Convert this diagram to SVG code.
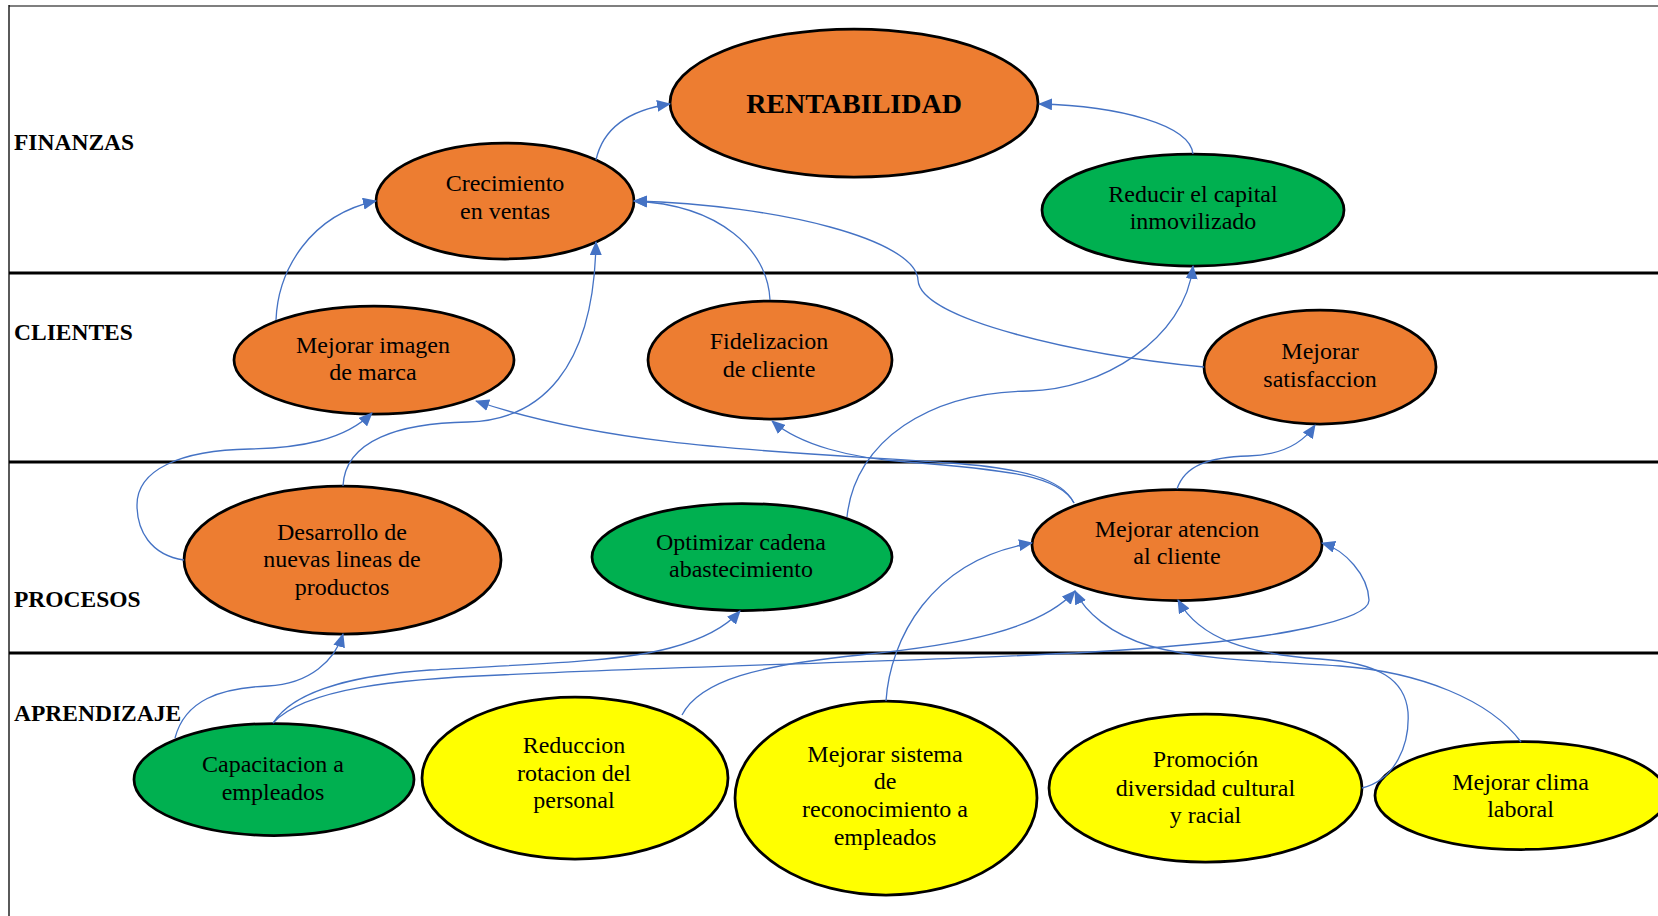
<svg xmlns="http://www.w3.org/2000/svg" width="1658" height="916" viewBox="0 0 1658 916">
<style>
.lane{stroke:#000;stroke-width:3;fill:none}
.lbl{font-family:"Liberation Serif","Times New Roman",serif;font-weight:bold;font-size:23.5px;fill:#000}
.n{stroke:#000;stroke-width:2.75}
.or{fill:#ED7D31}
.gr{fill:#00B050}
.ye{fill:#FFFF00}
.t{font-family:"Liberation Serif","Times New Roman",serif;font-size:24px;fill:#000;text-anchor:middle}
.big{font-weight:bold;font-size:28px}
.c{fill:none;stroke:#4472C4;stroke-width:1.3;marker-end:url(#ah)}
</style>
<defs>
<marker id="ah" markerUnits="userSpaceOnUse" markerWidth="14" markerHeight="12" refX="13" refY="6" orient="auto">
<path d="M0,0 L14,6 L0,12 z" fill="#4472C4"/>
</marker>
</defs>
<rect x="0" y="0" width="1658" height="916" fill="#fff"/>
<g id="frame">
<line x1="9" y1="6" x2="1658" y2="6" stroke="#7f7f7f" stroke-width="2.2"/>
<line x1="9" y1="5" x2="9" y2="916" stroke="#000" stroke-width="1.3"/>
<line class="lane" x1="9" y1="273" x2="1658" y2="273"/>
<line class="lane" x1="9" y1="462" x2="1658" y2="462"/>
<line class="lane" x1="9" y1="653" x2="1658" y2="653"/>
<text class="lbl" x="14" y="150">FINANZAS</text>
<text class="lbl" x="14" y="340">CLIENTES</text>
<text class="lbl" x="14" y="607">PROCESOS</text>
<text class="lbl" x="14" y="721">APRENDIZAJE</text>
</g>
<g id="rentabilidad"><ellipse class="n or" cx="854" cy="103" rx="184" ry="74"/><text class="t big" x="854" y="113">RENTABILIDAD</text></g>
<g id="crecimiento"><ellipse class="n or" cx="505" cy="201" rx="129" ry="58"/><text class="t" x="505" y="191">Crecimiento</text><text class="t" x="505" y="218.5">en ventas</text></g>
<g id="reducir"><ellipse class="n gr" cx="1193" cy="210" rx="151" ry="56"/><text class="t" x="1193" y="201.5">Reducir el capital</text><text class="t" x="1193" y="229">inmovilizado</text></g>
<g id="imagen"><ellipse class="n or" cx="374" cy="360" rx="140" ry="54"/><text class="t" x="373" y="352.5">Mejorar imagen</text><text class="t" x="373" y="380">de marca</text></g>
<g id="fidelizacion"><ellipse class="n or" cx="770" cy="360" rx="122" ry="59"/><text class="t" x="769" y="349">Fidelizacion</text><text class="t" x="769" y="377">de cliente</text></g>
<g id="satisfaccion"><ellipse class="n or" cx="1320" cy="367" rx="116" ry="57"/><text class="t" x="1320" y="358.5">Mejorar</text><text class="t" x="1320" y="386.5">satisfaccion</text></g>
<g id="desarrollo"><ellipse class="n or" cx="342.5" cy="560" rx="158.5" ry="74"/><text class="t" x="342" y="539.5">Desarrollo de</text><text class="t" x="342" y="567">nuevas lineas de</text><text class="t" x="342" y="594.5">productos</text></g>
<g id="optimizar"><ellipse class="n gr" cx="742" cy="557" rx="150" ry="53.5"/><text class="t" x="741" y="549.5">Optimizar cadena</text><text class="t" x="741" y="577">abastecimiento</text></g>
<g id="atencion"><ellipse class="n or" cx="1177" cy="545" rx="145" ry="55.5"/><text class="t" x="1177" y="536.5">Mejorar atencion</text><text class="t" x="1177" y="564">al cliente</text></g>
<g id="capacitacion"><ellipse class="n gr" cx="274" cy="779.5" rx="140" ry="56"/><text class="t" x="273" y="772">Capacitacion a</text><text class="t" x="273" y="799.5">empleados</text></g>
<g id="reduccion"><ellipse class="n ye" cx="575" cy="778" rx="153" ry="81"/><text class="t" x="574" y="752.5">Reduccion</text><text class="t" x="574" y="780.5">rotacion del</text><text class="t" x="574" y="808">personal</text></g>
<g id="sistema"><ellipse class="n ye" cx="886" cy="798" rx="151" ry="97"/><text class="t" x="885" y="761.5">Mejorar sistema</text><text class="t" x="885" y="789">de</text><text class="t" x="885" y="817">reconocimiento a</text><text class="t" x="885" y="844.5">empleados</text></g>
<g id="promocion"><ellipse class="n ye" cx="1205.5" cy="788" rx="156.5" ry="74"/><text class="t" x="1205.5" y="767">Promoción</text><text class="t" x="1205.5" y="795.5">diversidad cultural</text><text class="t" x="1205.5" y="823">y racial</text></g>
<g id="clima"><ellipse class="n ye" cx="1521" cy="795.5" rx="146" ry="54"/><text class="t" x="1520.5" y="790">Mejorar clima</text><text class="t" x="1520.5" y="817">laboral</text></g>
<g id="connectors">
<path class="c" d="M596,160 C603,128 630,110 670,104"/>
<path class="c" d="M1193,154 C1190,125 1120,106 1039,104"/>
<path class="c" d="M276,320 C278,270 310,215 376,201"/>
<path class="c" d="M343,486 C345,440 400,423 468,422 C540,420 594,370 596,242"/>
<path class="c" d="M770,300 C768,250 720,205 634,201"/>
<path class="c" d="M1204,367 C1080,355 920,320 918,280 C916,240 780,205 634,201"/>
<path class="c" d="M847,517 C855,440 930,392 1029,391 C1100,390 1185,340 1193,266"/>
<path class="c" d="M184,560 C150,555 137,530 137,505 C137,470 180,450 250,449 C300,448 345,440 372,413"/>
<path class="c" d="M1074,503 C1062,478 1020,468 950,463 C800,452 620,450 476,401"/>
<path class="c" d="M1074,503 C1060,476 1010,470 907,462 C850,458 800,445 772,421"/>
<path class="c" d="M1177,489 C1185,465 1210,457 1248,456 C1285,455 1305,440 1315,425"/>
<path class="c" d="M175,738 C185,700 220,688 268,686 C310,684 335,660 343,634"/>
<path class="c" d="M273,723 C295,688 360,675 430,670 C530,664 620,662 670,648 C700,640 725,628 740,611"/>
<path class="c" d="M273,723 C305,688 400,679 500,675 C700,665 1000,660 1150,648 C1280,638 1370,620 1369,600 C1368,575 1345,550 1322,543"/>
<path class="c" d="M682,715 C700,680 760,665 860,655 C960,645 1040,630 1075,591"/>
<path class="c" d="M1521,742 C1490,700 1420,672 1340,666 C1260,661 1200,660 1150,646 C1110,634 1085,612 1075,591"/>
<path class="c" d="M1362,788 C1395,780 1410,745 1408,712 C1405,680 1380,663 1320,659 C1250,654 1200,640 1178,600"/>
<path class="c" d="M886,701 C890,640 930,560 1032,543"/>
</g>
</svg>
